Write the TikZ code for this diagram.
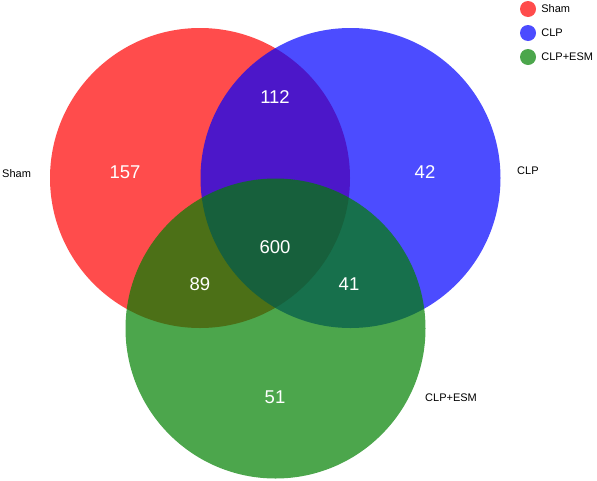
\documentclass[tikz,border=0pt]{standalone}
\usepackage{fontspec}
\setmainfont{Liberation Sans}
\usepackage{tikz}
\usetikzlibrary{
  positioning
}
\definecolor{sham}{RGB}{255,0,0}
\definecolor{clp}{RGB}{0,0,255}
\definecolor{esm}{RGB}{0,128,0}
\tikzset{
  every set/.style={fill opacity=0.7},
  count/.style={text=white,font=\fontsize{18.5}{20}\selectfont,inner sep=0pt},
  set label/.style={font=\fontsize{11}{13}\selectfont,inner sep=0pt},
  key dot/.style={circle,minimum size=16pt,inner sep=0pt,fill opacity=0.7},
}

\begin{document}
\begin{tikzpicture}[x=1pt,y=-1pt]
\useasboundingbox (0,0) rectangle (597,480);
% the three sets
\foreach \name/\cx/\cy in {sham/200/178, clp/350.5/178, esm/275.5/328.5}
{
  \fill[\name, every set] (\cx,\cy) circle (150pt);
}
\foreach \lab/\px/\py in {157/125/172, 112/275/97, 42/425/172, 600/275/247, 89/200/284, 41/349/284, 51/275/397}
{
  \node[count] (n\lab) at (\px,\py) {\lab};
}
\node[set label, anchor=west] (lsham) at (2,174) {Sham};
\node[set label, anchor=west] (lclp) at (517,171) {CLP};
\node[set label, anchor=west] (lesm) at (425,398) {CLP+ESM};
% legend
\foreach[count=\k] \col/\txt in {sham/Sham, clp/CLP, esm/CLP+ESM}
{
  \node[key dot, fill=\col] (key\k) at (528, \k*24-15) {};
  \node[set label, right=5pt of key\k] (keytext\k) {\txt};
}
\end{tikzpicture}
\end{document}
